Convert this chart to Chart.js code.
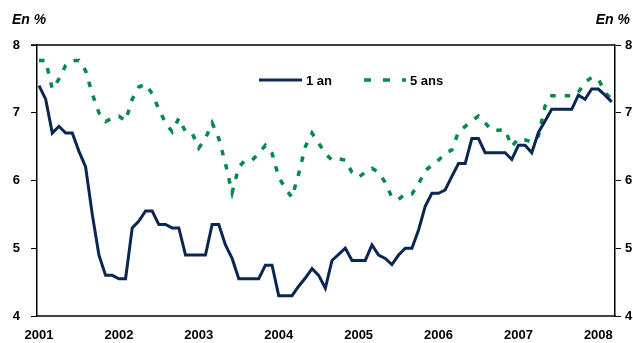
<!DOCTYPE html>
<html>
<head>
<meta charset="utf-8">
<script src="https://cdn.jsdelivr.net/npm/chart.js@4"></script>
<style>
  html, body { margin: 0; padding: 0; background: #fff; }
  #wrap { position: relative; width: 633px; height: 343px; }
  .unit { position: absolute; top: 11px; font: italic bold 14px "Liberation Sans", Arial, sans-serif; color: #000; }
</style>
</head>
<body>
<div id="wrap">
  <div class="unit" style="left:12px">En %</div>
  <div class="unit" style="right:3px">En %</div>
  <canvas id="chart" width="633" height="343"></canvas>
</div>
<script>
// monthly, Jan 2001 -> Mar 2008
var years = ['2001', '2002', '2003', '2004', '2005', '2006', '2007', '2008'];
var seriesNames = ['1 an', '5 ans'];

var oneYear = [
    7.4, 7.2, 6.7, 6.8, 6.7, 6.7, 6.43, 6.2, 5.5, 4.9, 4.6, 4.6,
    4.55, 4.55, 5.3, 5.4, 5.55, 5.55, 5.35, 5.35, 5.3, 5.3, 4.9, 4.9,
    4.9, 4.9, 5.35, 5.35, 5.05, 4.85, 4.55, 4.55, 4.55, 4.55, 4.75, 4.75,
    4.3, 4.3, 4.3, 4.44, 4.56, 4.7, 4.6, 4.41, 4.82, 4.91, 5.0, 4.82,
    4.82, 4.82, 5.05, 4.9, 4.85, 4.76, 4.9, 5.0, 5.0, 5.27, 5.62, 5.81,
    5.81, 5.86, 6.06, 6.25, 6.25, 6.62, 6.62, 6.41, 6.41, 6.41, 6.41, 6.31,
    6.52, 6.52, 6.41, 6.71, 6.88, 7.05, 7.05, 7.05, 7.05, 7.26, 7.2, 7.35,
    7.35, 7.26, 7.16
];

var fiveYear = [
    7.77, 7.77, 7.35, 7.5, 7.7, 7.77, 7.77, 7.62, 7.28, 7.0, 6.87, 6.92,
    6.95, 6.88, 7.2, 7.38, 7.42, 7.28, 7.05, 6.85, 6.72, 6.92, 6.72, 6.7,
    6.48, 6.62, 6.85, 6.62, 6.25, 5.82, 6.2, 6.3, 6.3, 6.4, 6.52, 6.4,
    6.05, 5.88, 5.75, 6.1, 6.5, 6.7, 6.55, 6.4, 6.3, 6.32, 6.3, 6.12,
    6.05, 6.12, 6.18, 6.12, 5.97, 5.75, 5.72, 5.8, 5.8, 5.95, 6.15, 6.22,
    6.3, 6.4, 6.45, 6.72, 6.8, 6.88, 6.95, 6.85, 6.74, 6.74, 6.75, 6.5,
    6.62, 6.6, 6.57, 6.66, 7.1, 7.25, 7.25, 7.25, 7.25, 7.3, 7.45, 7.52,
    7.5, 7.3, 7.2
];

var FONT = '"Liberation Sans", Arial, sans-serif';

function toPoints(arr) {
    return arr.map((v, i) => ({ x: i, y: v }));
}

// legend inside the plot + top frame line
var innerLegend = {
    id: 'innerLegend',
    afterDraw(chart) {
        var ctx = chart.ctx;
        var area = chart.chartArea;
        ctx.save();
        ctx.strokeStyle = '#000';
        ctx.lineWidth = 1.5;
        ctx.beginPath();
        ctx.moveTo(area.left - 6, area.top);
        ctx.lineTo(area.right, area.top);
        ctx.stroke();

        var spots = [{ x: 259, w: 43 }, { x: 364, w: 42 }];
        var y = 80;
        ctx.font = 'bold 13px ' + FONT;
        ctx.textBaseline = 'middle';
        chart.data.datasets.forEach((ds, k) => {
            var s = spots[k];
            ctx.strokeStyle = ds.borderColor;
            ctx.lineWidth = ds.borderWidth;
            // legend dashes are a bit longer than in the plot
            ctx.setLineDash(ds.borderDash ? [7, 12] : []);
            ctx.beginPath();
            ctx.moveTo(s.x, y);
            ctx.lineTo(s.x + s.w, y);
            ctx.stroke();
            ctx.setLineDash([]);
            ctx.fillStyle = '#000';
            ctx.fillText(ds.label, s.x + s.w + 4, y + 1);
        });
        ctx.restore();
    }
};

var yTicks = {
    color: '#000',
    font: { family: FONT, size: 13, weight: 'bold' },
    stepSize: 1
};

var ctx = document.getElementById('chart');

var myChart = new Chart(ctx, {
    type: 'line',
    data: {
        datasets: [
            {
                label: seriesNames[0],
                data: toPoints(oneYear),
                borderColor: '#0c2652',
                borderWidth: 3,
                pointRadius: 0,
                tension: 0,
                yAxisID: 'y'
            },
            {
                label: seriesNames[1],
                data: toPoints(fiveYear),
                borderColor: '#00894b',
                borderWidth: 3.5,
                borderDash: [5.5, 9],
                pointRadius: 0,
                tension: 0,
                yAxisID: 'y'
            }
        ]
    },
    options: {
        responsive: false,
        animation: false,
        layout: { padding: { top: 45, left: 0, right: 0, bottom: 0 } },
        plugins: {
            legend: { display: false },
            tooltip: { enabled: false }
        },
        scales: {
            x: {
                type: 'linear',
                min: -0.3,
                max: 86.5,
                afterBuildTicks: (axis) => {
                    axis.ticks = years.map((y, k) => ({ value: k * 12 }));
                },
                afterFit: (axis) => { axis.height = 27; },
                ticks: {
                    color: '#000',
                    font: { family: FONT, size: 13, weight: 'bold' },
                    padding: 12,
                    maxRotation: 0,
                    autoSkip: false,
                    callback: (v) => years[Math.round(v / 12)]
                },
                grid: { display: false, drawTicks: false },
                border: { display: true, color: '#444', width: 2 }
            },
            y: {
                position: 'left',
                min: 4,
                max: 8,
                afterFit: (axis) => { axis.width = 37; },
                ticks: Object.assign({ padding: 11 }, yTicks),
                grid: { drawOnChartArea: false, drawTicks: true, tickLength: 6, color: '#000' },
                border: { display: true, color: '#000', width: 1.5 }
            },
            y2: {
                position: 'right',
                min: 4,
                max: 8,
                afterFit: (axis) => { axis.width = 18; },
                ticks: Object.assign({ padding: 4 }, yTicks),
                grid: { drawOnChartArea: false, drawTicks: true, tickLength: 6, color: '#000' },
                border: { display: true, color: '#000', width: 1.5 }
            }
        }
    },
    plugins: [innerLegend]
});
</script>
</body>
</html>
